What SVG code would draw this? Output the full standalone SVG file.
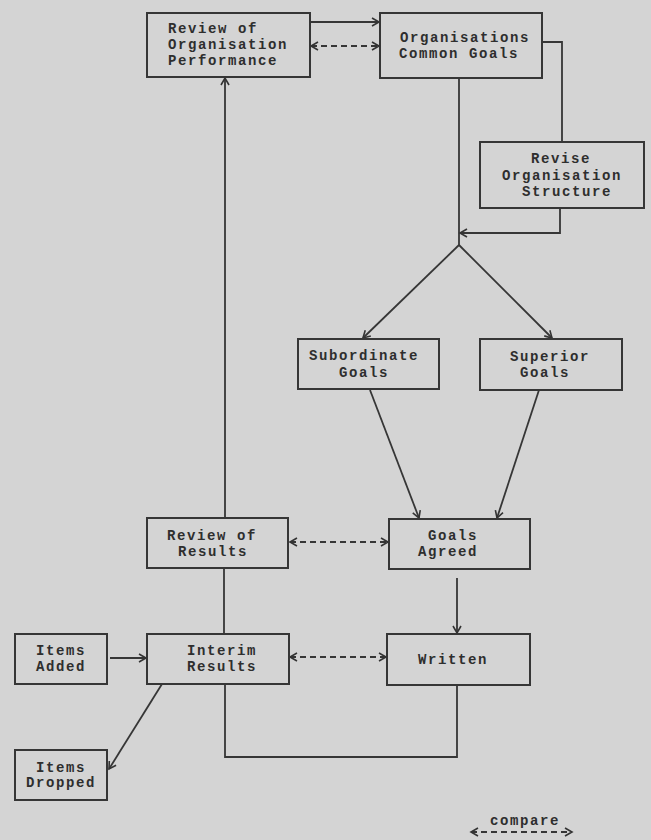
<svg xmlns="http://www.w3.org/2000/svg" width="651" height="840" viewBox="0 0 651 840">
<defs>
<marker id="arr" viewBox="-10 -6 12 12" refX="0" refY="0" markerWidth="12" markerHeight="12" markerUnits="userSpaceOnUse" orient="auto-start-reverse">
<path d="M-7,-4 L0,0 L-7,4" fill="none" stroke="#333" stroke-width="1.6"/>
</marker>
<style>
.box{fill:none;stroke:#363636;stroke-width:2}
.ln{fill:none;stroke:#363636;stroke-width:1.8}
.dash{fill:none;stroke:#363636;stroke-width:1.8;stroke-dasharray:6,4}
text{font-family:"Liberation Mono","Courier New",monospace;font-weight:bold;font-size:14px;letter-spacing:1.6px;fill:#2e2e2e}
</style>
</defs>
<rect x="0" y="0" width="651" height="840" fill="#d4d4d4"/>

<g id="connectors">
<line class="ln" x1="310" y1="22" x2="379" y2="22" marker-end="url(#arr)"/>
<line class="dash" x1="311" y1="46" x2="379" y2="46" marker-start="url(#arr)" marker-end="url(#arr)"/>
<polyline class="ln" points="542,42 562,42 562,142"/>
<line class="ln" x1="459" y1="78" x2="459" y2="245"/>
<polyline class="ln" points="560,208 560,233 460,233" marker-end="url(#arr)"/>
<line class="ln" x1="459" y1="245" x2="363" y2="338" marker-end="url(#arr)"/>
<line class="ln" x1="459" y1="245" x2="552" y2="338" marker-end="url(#arr)"/>
<line class="ln" x1="370" y1="390" x2="419" y2="518" marker-end="url(#arr)"/>
<line class="ln" x1="539" y1="390" x2="497" y2="518" marker-end="url(#arr)"/>
<line class="ln" x1="225" y1="518" x2="225" y2="78" marker-end="url(#arr)"/>
<line class="dash" x1="290" y1="542" x2="388" y2="542" marker-start="url(#arr)" marker-end="url(#arr)"/>
<line class="ln" x1="224" y1="568" x2="224" y2="634"/>
<line class="ln" x1="457" y1="578" x2="457" y2="633" marker-end="url(#arr)"/>
<line class="ln" x1="110" y1="658" x2="146" y2="658" marker-end="url(#arr)"/>
<line class="dash" x1="290" y1="657" x2="386" y2="657" marker-start="url(#arr)" marker-end="url(#arr)"/>
<polyline class="ln" points="225,684 225,757 457,757 457,685"/>
<line class="ln" x1="162" y1="684" x2="109" y2="769" marker-end="url(#arr)"/>
<line class="dash" x1="471" y1="832" x2="572" y2="832" marker-start="url(#arr)" marker-end="url(#arr)"/>
</g>

<g id="review-org-performance">
<rect class="box" x="147" y="13" width="163" height="64"/>
<text x="168" y="33">Review of</text>
<text x="168" y="49">Organisation</text>
<text x="168" y="65">Performance</text>
</g>
<g id="org-common-goals">
<rect class="box" x="380" y="13" width="162" height="65"/>
<text x="400" y="42">Organisations</text>
<text x="399" y="58">Common Goals</text>
</g>
<g id="revise-structure">
<rect class="box" x="480" y="142" width="164" height="66"/>
<text x="531" y="163">Revise</text>
<text x="502" y="180">Organisation</text>
<text x="522" y="196">Structure</text>
</g>
<g id="subordinate-goals">
<rect class="box" x="298" y="339" width="141" height="50"/>
<text x="309" y="360">Subordinate</text>
<text x="339" y="377">Goals</text>
</g>
<g id="superior-goals">
<rect class="box" x="480" y="339" width="142" height="51"/>
<text x="510" y="361">Superior</text>
<text x="520" y="377">Goals</text>
</g>
<g id="review-results">
<rect class="box" x="147" y="518" width="141" height="50"/>
<text x="167" y="540">Review of</text>
<text x="178" y="556">Results</text>
</g>
<g id="goals-agreed">
<rect class="box" x="389" y="519" width="141" height="50"/>
<text x="428" y="540">Goals</text>
<text x="418" y="556">Agreed</text>
</g>
<g id="interim-results">
<rect class="box" x="147" y="634" width="142" height="50"/>
<text x="187" y="655">Interim</text>
<text x="187" y="671">Results</text>
</g>
<g id="written">
<rect class="box" x="387" y="634" width="143" height="51"/>
<text x="418" y="664">Written</text>
</g>
<g id="items-added">
<rect class="box" x="15" y="634" width="92" height="50"/>
<text x="36" y="655">Items</text>
<text x="36" y="671">Added</text>
</g>
<g id="items-dropped">
<rect class="box" x="15" y="750" width="92" height="50"/>
<text x="36" y="772">Items</text>
<text x="26" y="787">Dropped</text>
</g>
<g id="legend">
<text x="490" y="825">compare</text>
</g>
</svg>
